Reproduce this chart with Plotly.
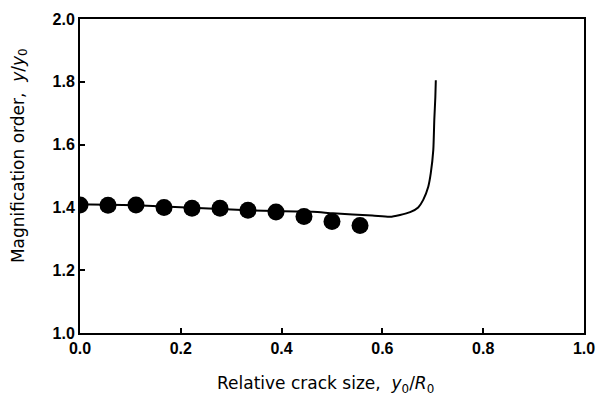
import plotly.graph_objects as go

# Measured points (dots)
pts_x = [0.0, 0.0556, 0.1111, 0.1667, 0.2222, 0.2778, 0.3333, 0.3889, 0.4444, 0.5, 0.5556]
pts_y = [1.408, 1.407, 1.408, 1.400, 1.397, 1.397, 1.391, 1.385, 1.371, 1.355, 1.342]

# Theoretical curve
curve_x = [0.0, 0.111, 0.222, 0.333, 0.462, 0.502, 0.58, 0.615, 0.635, 0.655, 0.671,
           0.681, 0.691, 0.696, 0.701, 0.703, 0.705, 0.706]
curve_y = [1.410, 1.407, 1.399, 1.391, 1.386, 1.381, 1.374, 1.370, 1.376, 1.385, 1.400,
           1.424, 1.466, 1.509, 1.583, 1.68, 1.75, 1.805]

x_ticks = [0.0, 0.2, 0.4, 0.6, 0.8, 1.0]
y_ticks = [1.0, 1.2, 1.4, 1.6, 1.8, 2.0]

x_title = "Relative crack size,  <i>y</i><sub>0</sub>/<i>R</i><sub>0</sub>"
y_title = "Magnification order,  <i>y</i>/<i>y</i><sub>0</sub>"

fig = go.Figure()
fig.add_trace(go.Scatter(x=curve_x, y=curve_y, mode="lines",
                         line=dict(color="black", width=2, shape="spline", smoothing=0.6),
                         showlegend=False, hoverinfo="skip"))
fig.add_trace(go.Scatter(x=pts_x, y=pts_y, mode="markers",
                         marker=dict(color="black", size=17),
                         showlegend=False))

axis_common = dict(showgrid=False, zeroline=False, showline=True, linecolor="black",
                   linewidth=2, mirror=True, ticks="inside", ticklen=5, tickwidth=1.5,
                   tickcolor="black", automargin=False,
                   tickfont=dict(family="Liberation Sans, Arial, sans-serif", size=16,
                                 color="black", weight="bold"))

title_font = dict(family="DejaVu Sans, sans-serif", size=17, color="black")

fig.update_layout(
    width=600, height=401,
    margin=dict(l=80, r=16, t=19, b=68),
    paper_bgcolor="white", plot_bgcolor="white",
    xaxis=dict(range=[0, 1.0], tickvals=x_ticks, ticktext=[f"{v:.1f}" for v in x_ticks],
               **axis_common),
    yaxis=dict(range=[1.0, 2.0], tickvals=y_ticks, ticktext=[f"{v:.1f}" for v in y_ticks],
               **axis_common),
    annotations=[
        dict(text=x_title, xref="paper", yref="paper", x=0.487, y=-0.165,
             xanchor="center", yanchor="middle", showarrow=False, font=title_font),
        dict(text=y_title, xref="paper", yref="paper", x=-0.12, y=0.565,
             xanchor="center", yanchor="middle", textangle=-90, showarrow=False,
             font=title_font),
    ],
)

fig.write_html("out.html")
